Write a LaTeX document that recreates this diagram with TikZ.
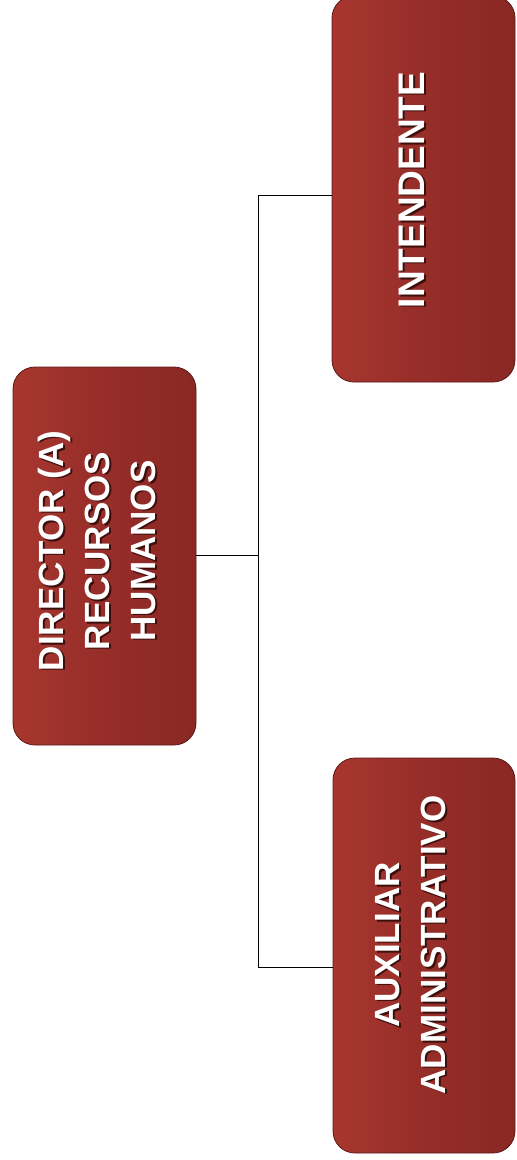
\documentclass[tikz,border=0pt]{standalone}
\usepackage{fontspec}
\setmainfont{Liberation Sans}
\definecolor{boxmid}{RGB}{150,45,41}
\definecolor{boxlight}{RGB}{168,54,47}
\definecolor{boxdark}{RGB}{138,40,36}
\definecolor{boxedge}{RGB}{90,25,22}
\definecolor{txtshadow}{RGB}{60,15,12}
\begin{document}
\begin{tikzpicture}[x=1pt,y=-1pt,
  rolebox/.style={draw=boxedge, line width=0.8pt, rounded corners=22pt,
    left color=boxlight, right color=boxdark, middle color=boxmid},
  roletext/.style={rotate=90, align=center, text=white,
    font=\bfseries\fontsize{35}{46}\selectfont},
  shadowtext/.style={rotate=90, align=center, text=txtshadow,
    font=\bfseries\fontsize{35}{46}\selectfont},
  bigger/.style={font=\bfseries\fontsize{37}{46}\selectfont},
  link/.style={draw=black, line width=0.8pt}]
\useasboundingbox (0,0) rectangle (517,1160);
% boxes
\path[rolebox] (13,367) rectangle (196,745);
\node[inner sep=0pt, minimum width=183pt, minimum height=378pt] (dir) at (104.5,556) {};
\path[rolebox] (332,-4) rectangle (515,382);
\node[inner sep=0pt, minimum width=183pt, minimum height=386pt] (int) at (423.5,189) {};
\path[rolebox] (333,758) rectangle (515,1153);
\node[inner sep=0pt, minimum width=182pt, minimum height=395pt] (aux) at (424,955.5) {};
% texts
\node[shadowtext] (dirs) at (98.5,552.5) {DIRECTOR (A)\\RECURSOS\\HUMANOS};
\node[roletext] (dirt) at (97,551) {DIRECTOR (A)\\RECURSOS\\HUMANOS};
\node[shadowtext, bigger] (ints) at (413.5,191.5) {INTENDENTE};
\node[roletext, bigger] (intt) at (412,190) {INTENDENTE};
\node[shadowtext] (auxs) at (412.5,946.5) {AUXILIAR\\ADMINISTRATIVO};
\node[roletext] (auxt) at (411,945) {AUXILIAR\\ADMINISTRATIVO};
% connectors
\coordinate (j) at (258,555);
\draw[link] (dir.east |- j) -- (j);
\draw[link] (int.west |- 0,195) -| (j);
\draw[link] (aux.west |- 0,967) -| (j);
\end{tikzpicture}
\end{document}
